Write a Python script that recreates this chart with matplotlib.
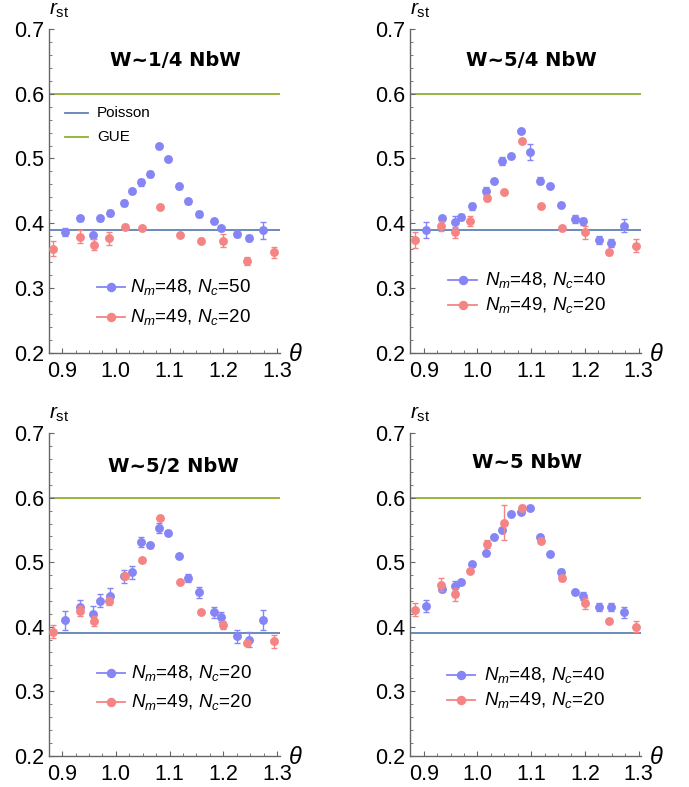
import matplotlib

matplotlib.use("Agg")
import matplotlib.pyplot as plt  # noqa: E402
import numpy as np  # noqa: E402

# commensurate twist angles (deg)
THETA_A = [0.905, 0.934, 0.958, 0.970, 0.989, 1.016, 1.030, 1.046, 1.063, 1.081,
           1.098, 1.117, 1.135, 1.155, 1.182, 1.196, 1.226, 1.248, 1.273]
THETA_B = [0.883, 0.933, 0.959, 0.987, 1.017, 1.049, 1.083, 1.119, 1.158, 1.200,
           1.245, 1.295]

POISSON = 0.39
GUE = 0.60

TITLES = ["W~1/4 NbW", "W~5/4 NbW", "W~5/2 NbW", "W~5 NbW"]
LABELS_A = [r"$N_m$=48, $N_c$=50", r"$N_m$=48, $N_c$=40",
            r"$N_m$=48, $N_c$=20", r"$N_m$=48, $N_c$=40"]
LABELS_B = [r"$N_m$=49, $N_c$=20"] * 4

# r_st, series A (N_m=48)
R_A1 = [0.386, 0.408, 0.382, 0.408, 0.416, 0.431, 0.450, 0.463, 0.476, 0.520,
        0.499, 0.457, 0.434, 0.414, 0.403, 0.392, 0.383, 0.377, 0.389]
R_A2 = [0.390, 0.408, 0.402, 0.410, 0.426, 0.450, 0.466, 0.496, 0.504, 0.542,
        0.510, 0.466, 0.457, 0.428, 0.407, 0.403, 0.374, 0.369, 0.396]
R_A3 = [0.410, 0.431, 0.419, 0.440, 0.448, 0.478, 0.484, 0.531, 0.526, 0.553,
        0.546, 0.510, 0.475, 0.453, 0.422, 0.415, 0.385, 0.380, 0.410]
R_A4 = [0.432, 0.458, 0.463, 0.470, 0.497, 0.514, 0.539, 0.550, 0.575, 0.578,
        0.584, 0.539, 0.513, 0.484, 0.453, 0.448, 0.431, 0.431, 0.422]
E_A1 = [0.006, 0.004, 0.007, 0.004, 0.005, 0.005, 0.003, 0.006, 0.004, 0.003,
        0.003, 0.004, 0.004, 0.005, 0.003, 0.004, 0.004, 0.005, 0.013]
E_A2 = [0.012, 0.004, 0.010, 0.005, 0.006, 0.006, 0.003, 0.006, 0.003, 0.003,
        0.012, 0.006, 0.003, 0.003, 0.006, 0.005, 0.006, 0.006, 0.010]
E_A3 = [0.015, 0.010, 0.013, 0.010, 0.012, 0.010, 0.010, 0.008, 0.004, 0.008,
        0.003, 0.003, 0.006, 0.008, 0.008, 0.008, 0.010, 0.012, 0.016]
E_A4 = [0.010, 0.004, 0.008, 0.003, 0.003, 0.003, 0.003, 0.003, 0.003, 0.003,
        0.003, 0.003, 0.003, 0.006, 0.003, 0.006, 0.006, 0.006, 0.008]

# r_st, series B (N_m=49)
R_B1 = [0.361, 0.379, 0.367, 0.377, 0.395, 0.392, 0.425, 0.382, 0.373, 0.373,
        0.342, 0.355]
R_B2 = [0.374, 0.396, 0.386, 0.404, 0.439, 0.448, 0.527, 0.426, 0.393, 0.386,
        0.355, 0.365]
R_B3 = [0.392, 0.424, 0.409, 0.440, 0.479, 0.504, 0.569, 0.470, 0.422, 0.402,
        0.374, 0.377]
R_B4 = [0.426, 0.465, 0.450, 0.487, 0.528, 0.561, 0.584, 0.533, 0.475, 0.436,
        0.409, 0.400]
E_B1 = [0.012, 0.010, 0.008, 0.010, 0.004, 0.003, 0.003, 0.003, 0.004, 0.010,
        0.006, 0.008]
E_B2 = [0.012, 0.008, 0.008, 0.008, 0.004, 0.003, 0.003, 0.003, 0.003, 0.010,
        0.004, 0.010]
E_B3 = [0.010, 0.008, 0.008, 0.006, 0.004, 0.003, 0.003, 0.003, 0.003, 0.006,
        0.003, 0.010]
E_B4 = [0.010, 0.010, 0.010, 0.003, 0.006, 0.027, 0.004, 0.003, 0.004, 0.008,
        0.003, 0.008]

COLOR_A = "#8585f5"
COLOR_B = "#f58585"
POISSON_COLOR = "#5e81b5"
GUE_COLOR = "#8fb032"
AXIS_COLOR = "#666666"

plt.rcParams["font.family"] = ["Liberation Sans", "DejaVu Sans"]
plt.rcParams["mathtext.fontset"] = "custom"
plt.rcParams["mathtext.rm"] = "Liberation Sans"
plt.rcParams["mathtext.it"] = "Liberation Sans:italic"

W, H = 689, 787
fig = plt.figure(figsize=(W / 100, H / 100), dpi=100)

# axes boxes in pixels: left, top, width, height
BOXES = [(48.7, 28.9, 231.0, 324.0), (410.3, 28.9, 231.0, 324.0),
         (48.7, 433.3, 231.0, 322.2), (410.3, 433.3, 231.0, 322.2)]
TITLE_POS = [(0.548, 0.904), (0.525, 0.904), (0.539, 0.898), (0.504, 0.908)]
# key layout: handle x0, x1, text x, row y's (axes fraction)
KEY_POS = [(0.2095, 0.331, 0.3526, 0.2034, 0.1108),
           (0.1648, 0.2905, 0.325, 0.225, 0.1478),
           (0.2095, 0.331, 0.357, 0.256, 0.166),
           (0.160, 0.282, 0.317, 0.2498, 0.172)]

R_A = [R_A1, R_A2, R_A3, R_A4]
E_A = [E_A1, E_A2, E_A3, E_A4]
R_B = [R_B1, R_B2, R_B3, R_B4]
E_B = [E_B1, E_B2, E_B3, E_B4]

MS = 6.4


def draw_key(ax, x0, x1, xt, y, color, label, marker=True, fs=13.5):
    ax.plot([x0, x1], [y, y], color=color, lw=1.3, transform=ax.transAxes, clip_on=False)
    if marker:
        ax.plot([(x0 + x1) / 2], [y], "o", color=color, ms=MS + 0.4, mec="none",
                transform=ax.transAxes, clip_on=False)
    ax.text(xt, y, label, transform=ax.transAxes, fontsize=fs, va="center", ha="left")


for i, (l, t, w, h) in enumerate(BOXES):
    ax = fig.add_axes([l / W, 1 - (t + h) / H, w / W, h / H])
    ax.set_xlim(0.876, 1.305)
    ax.set_ylim(0.2, 0.7)

    ax.axhline(POISSON, color=POISSON_COLOR, lw=1.3, zorder=1)
    ax.axhline(GUE, color=GUE_COLOR, lw=1.3, zorder=1)

    ax.errorbar(THETA_A, R_A[i], yerr=E_A[i], fmt="o", color=COLOR_A, ms=MS, mec="none",
                elinewidth=1.0, capsize=2.5, capthick=1.0, zorder=3)
    ax.errorbar(THETA_B, R_B[i], yerr=E_B[i], fmt="o", color=COLOR_B, ms=MS, mec="none",
                elinewidth=1.0, capsize=2.5, capthick=1.0, zorder=4)

    for side in ("top", "right"):
        ax.spines[side].set_visible(False)
    for side in ("left", "bottom"):
        ax.spines[side].set_color(AXIS_COLOR)
        ax.spines[side].set_linewidth(1.0)

    ax.set_xticks([0.9, 1.0, 1.1, 1.2, 1.3])
    ax.set_xticklabels(["0.9", "1.0", "1.1", "1.2", "1.3"])
    ax.set_xticks(np.arange(0.875, 1.31, 0.025), minor=True)
    ax.set_yticks([0.2, 0.3, 0.4, 0.5, 0.6, 0.7])
    ax.set_yticklabels(["0.2", "0.3", "0.4", "0.5", "0.6", "0.7"])
    ax.set_yticks(np.arange(0.2, 0.701, 0.02), minor=True)
    ax.tick_params(which="both", direction="in", color=AXIS_COLOR, labelsize=15.5)
    ax.tick_params(which="major", length=3.5, width=0.8)
    ax.tick_params(which="minor", length=2.0, width=0.6)
    ax.tick_params(axis="x", pad=6)
    ax.tick_params(axis="y", pad=3.5)

    ax.text(1.066, -0.007, r"$\theta$", transform=ax.transAxes, fontsize=17,
            ha="center", va="center")
    ax.text(0.0, 1.045, r"$r_{\mathrm{st}}$", transform=ax.transAxes, fontsize=15,
            ha="left", va="baseline")

    tx, ty = TITLE_POS[i]
    ax.text(tx, ty, TITLES[i], transform=ax.transAxes, fontsize=14, fontweight="bold",
            family="DejaVu Sans", ha="center", va="center")

    x0, x1, xt, ya, yb = KEY_POS[i]
    draw_key(ax, x0, x1, xt, ya, COLOR_A, LABELS_A[i])
    draw_key(ax, x0, x1, xt, yb, COLOR_B, LABELS_B[i])

    if i == 0:
        draw_key(ax, 0.0711, 0.1708, 0.2095, 0.7404, POISSON_COLOR, "Poisson",
                 marker=False, fs=11)
        draw_key(ax, 0.0711, 0.1708, 0.2095, 0.666, GUE_COLOR, "GUE",
                 marker=False, fs=11)

fig.savefig("out.png", dpi=100)
